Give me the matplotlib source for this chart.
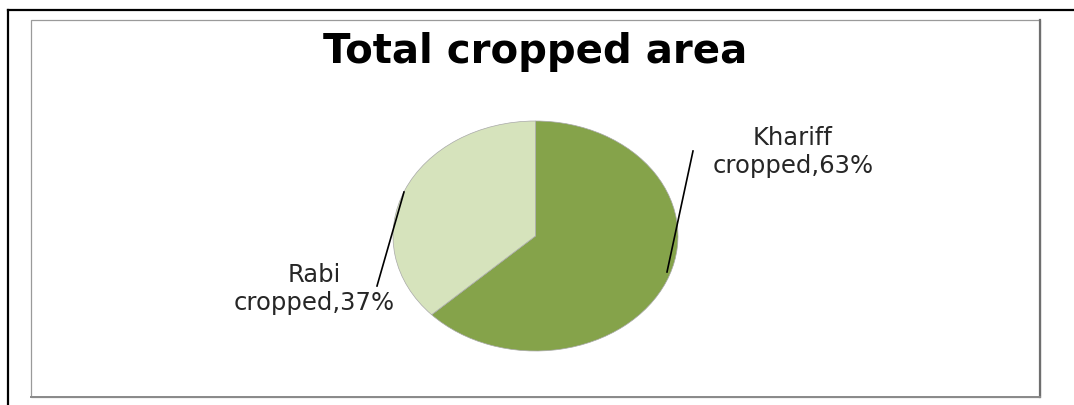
import matplotlib.pyplot as plt
from matplotlib.lines import Line2D
from matplotlib.patches import Rectangle

# Data
categories = ["Khariff cropped", "Rabi cropped"]
shares = [63, 37]
label_lines = [["Khariff", "cropped,63%"], ["Rabi", "cropped,37%"]]
colors = ["#85A34A", "#D6E3BC"]

W, H = 1074, 406


def fx(px):
    return px / W


def fy(py):
    return 1 - py / H


def main():
    fig = plt.figure(figsize=(W / 100, H / 100), dpi=100)

    # outer black frame (only top and left visible)
    fig.add_artist(Line2D([fx(8), fx(8)], [fy(11), 0], color="black", lw=1.6))
    fig.add_artist(Line2D([fx(8), 1], [fy(11), fy(11)], color="black", lw=1.6))

    # inner chart area frame
    fig.add_artist(Rectangle((fx(31), fy(398)), fx(1040) - fx(31), fy(21) - fy(398),
                             fill=False, edgecolor="#9a9a9a", lw=0.9))
    fig.add_artist(Line2D([fx(1040), fx(1040)], [fy(21), fy(398)], color="#6e6e6e", lw=1.6))
    fig.add_artist(Line2D([fx(31), fx(1040)], [fy(398), fy(398)], color="#8a8a8a", lw=1.4))

    # title
    fig.text(fx(535), fy(63), "Total cropped area", ha="center", va="baseline",
             fontsize=29, fontweight="bold", color="black", family="DejaVu Sans")

    # pie, stretched into an ellipse
    ax = fig.add_axes([fx(393), fy(352), fx(678) - fx(393), fy(122) - fy(352)])
    ax.pie(shares, colors=colors, startangle=90, counterclock=False,
           wedgeprops=dict(edgecolor="#a8a8a8", linewidth=0.5))
    ax.set_aspect("auto")
    ax.set_xlim(-1, 1)
    ax.set_ylim(-1, 1)
    ax.axis("off")

    # labels and leader lines (layout positions in pixels)
    label_pos = [(793, 145), (314, 282)]  # centre x, baseline of first line
    line_gap = 28
    leaders = [((693, 152), (667, 273)), ((404, 193), (377, 287))]
    for lines, (lx, ly), ((x0, y0), (x1, y1)) in zip(label_lines, label_pos, leaders):
        for i, line in enumerate(lines):
            fig.text(fx(lx), fy(ly + i * line_gap), line, ha="center", va="baseline",
                     fontsize=17.5, color="#262626")
        fig.add_artist(Line2D([fx(x0), fx(x1)], [fy(y0), fy(y1)], color="black", lw=1.2))

    fig.savefig("out.png", dpi=100)


if __name__ == "__main__":
    main()
